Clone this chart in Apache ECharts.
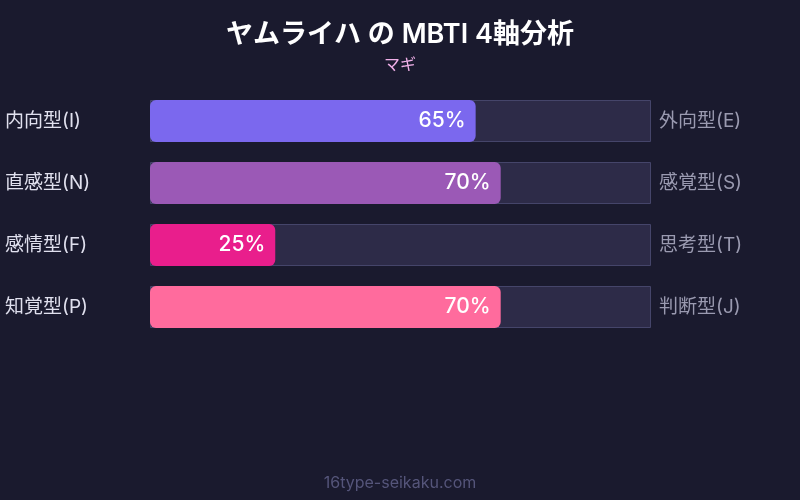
<!DOCTYPE html>
<html>
<head>
<meta charset="utf-8">
<script src="https://cdn.jsdelivr.net/npm/echarts@6/dist/echarts.min.js"></script>
<style>
  html, body { margin: 0; padding: 0; background: #1a1a2e; }
  #chart { width: 800px; height: 500px; }
</style>
</head>
<body>
<div id="chart"></div>
<script>
// 左側（主）と右側（反対）の指標
const leftLabels = ["内向型(I)", "直感型(N)", "感情型(F)", "知覚型(P)"];
const rightLabels = ["外向型(E)", "感覚型(S)", "思考型(T)", "判断型(J)"];
const values = [65, 70, 25, 70];
const trackValues = [100, 100, 100, 100];
const barColors = ["#7b68ee", "#9b59b6", "#e91e8c", "#ff6b9d"];

const font = "Inter, 'Noto Sans CJK JP', sans-serif";

const myChart = echarts.init(document.getElementById("chart"));
const option = {
  backgroundColor: "#1a1a2e",
  title: {
    text: "ヤムライハ の MBTI 4軸分析",
    subtext: "マギ",
    left: "center",
    top: 16,
    itemGap: 9,
    textStyle: { color: "#ffffff", fontSize: 27, fontWeight: 600, fontFamily: font },
    subtextStyle: { color: "#f0b0e8", fontSize: 16, fontFamily: font },
  },
  graphic: [
    {
      type: "text",
      left: "center",
      top: 475,
      style: { text: "16type-seikaku.com", fill: "#55557a", fontSize: 16, fontFamily: font },
    },
  ],
  grid: { left: 150, right: 149, top: 90, height: 248 },
  xAxis: { type: "value", min: 0, max: 100, show: false },
  yAxis: [
    {
      type: "category",
      inverse: true,
      data: leftLabels,
      axisLine: { show: false },
      axisTick: { show: false },
      axisLabel: { color: "#e0e0ee", fontSize: 19, align: "left", margin: 145, fontFamily: font },
    },
    {
      type: "category",
      inverse: true,
      position: "right",
      data: rightLabels,
      axisLine: { show: false },
      axisTick: { show: false },
      axisLabel: { color: "#9a9ab0", fontSize: 19, margin: 8, fontFamily: font },
    },
  ],
  series: [
    {
      name: "track",
      type: "bar",
      yAxisIndex: 0,
      data: trackValues,
      barWidth: 42,
      barGap: "-100%",
      silent: true,
      itemStyle: { color: "#2d2b48", borderColor: "#45456a", borderWidth: 1 },
      z: 1,
    },
    {
      name: "value",
      type: "bar",
      yAxisIndex: 0,
      data: values,
      barWidth: 42,
      itemStyle: {
        borderRadius: 6,
        color: function (params) {
          return barColors[params.dataIndex];
        },
      },
      label: {
        show: true,
        position: "insideRight",
        distance: 10,
        formatter: "{c}%",
        color: "#ffffff",
        fontSize: 21,
        fontWeight: 500,
        fontFamily: font,
      },
      z: 2,
    },
  ],
};
myChart.setOption(option);
</script>
</body>
</html>
